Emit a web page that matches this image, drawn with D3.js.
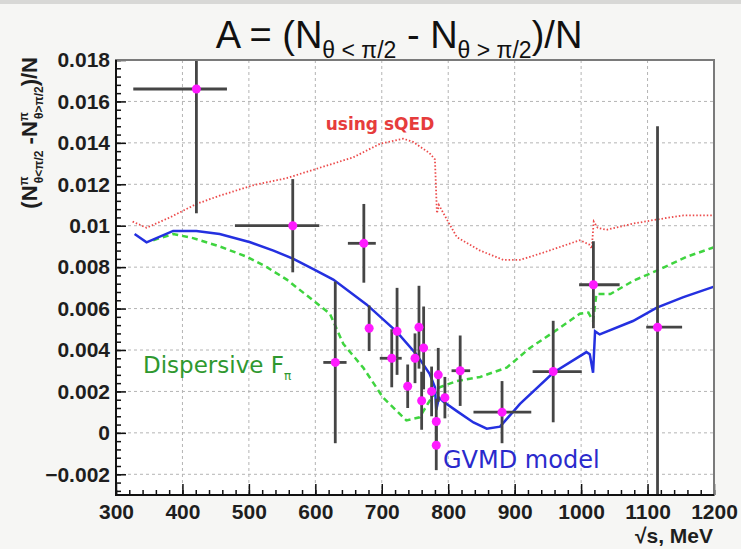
<!DOCTYPE html>
<html>
<head>
<meta charset="utf-8">
<script src="https://cdn.jsdelivr.net/npm/d3@7"></script>
<style>
body { margin: 0; background: #f6f6f4; }
svg { display: block; }
.axis-label { font-family: 'Liberation Sans', Arial, sans-serif; font-weight: bold; font-size: 21px; fill: #1e1e1e; }
.axis path { display: none; }
.axis line { stroke: #111; stroke-width: 1.5; }
</style>
</head>
<body>
<svg id="chart" width="741" height="549"></svg>
<script>
'use strict';

// axes
var aXTicks = [300, 400, 500, 600, 700, 800, 900, 1000, 1100, 1200];
var aYTicks = [-0.002, 0, 0.002, 0.004, 0.006, 0.008, 0.01, 0.012, 0.014, 0.016, 0.018];
var aYTickLabels = ['\u22120.002', '0', '0.002', '0.004', '0.006', '0.008', '0.01', '0.012', '0.014', '0.016', '0.018'];

// measured points: energy (MeV), asymmetry, error, energy bin edges
var aPointE    = [421, 566, 673, 630, 681, 715, 723, 739, 750, 756, 763, 760, 775, 785, 795, 782, 782, 818, 881, 958, 1018.5, 1115];
var aPointA    = [0.0166, 0.0100, 0.00915, 0.0034, 0.00505, 0.0036, 0.0049, 0.00225, 0.0036, 0.0051, 0.0041, 0.00155, 0.0020, 0.0028, 0.0017, 0.00055, -0.0006, 0.0030, 0.0010, 0.00296, 0.00715, 0.0051];
var aPointErr  = [0.0060, 0.00225, 0.0019, 0.0039, 0.0011, 0.0014, 0.0021, 0.00105, 0.0012, 0.0020, 0.0020, 0.0014, 0.0012, 0.0013, 0.0010, 0.0011, 0.0012, 0.0017, 0.0015, 0.00245, 0.0021, 0.0097];
var aPointELo  = [326, 479, 649, 612, 678, 697, 720, 736, 747, 753, 760, 757, 772, 782, 792, 779, 779, 805, 838, 927, 997, 1098];
var aPointEHi  = [467, 606, 691, 647, 684, 730, 726, 742, 753, 759, 766, 763, 778, 788, 798, 785, 785, 833, 925, 1001, 1058, 1152];

// sQED prediction (red dotted)
var aSqedE = [325, 346, 381, 421, 456, 506, 557, 607, 657, 697, 732, 747, 772, 780, 783, 786, 798, 813, 848, 883, 908, 923, 943, 998, 1012, 1016, 1019, 1025, 1038, 1078, 1114, 1154, 1199];
var aSqedA = [0.0102, 0.0099, 0.0104, 0.01105, 0.01145, 0.01195, 0.0123, 0.0128, 0.0133, 0.01395, 0.0142, 0.01405, 0.0135, 0.0132, 0.0106, 0.0110, 0.0103, 0.00945, 0.0088, 0.00835, 0.00835, 0.0085, 0.0087, 0.0093, 0.0091, 0.0089, 0.0102, 0.0099, 0.0098, 0.0101, 0.0103, 0.0105, 0.0105];

// GVMD model (blue solid)
var aGvmdE = [328, 346, 386, 421, 456, 502, 537, 567, 597, 627, 677, 722, 752, 772, 780, 782, 786, 793, 813, 838, 858, 878, 908, 958, 1008, 1013, 1018, 1021, 1028, 1078, 1114, 1154, 1199];
var aGvmdA = [0.0096, 0.0092, 0.00975, 0.00975, 0.0096, 0.0092, 0.0088, 0.0084, 0.0079, 0.0074, 0.0062, 0.0049, 0.0038, 0.00285, 0.0022, 0.0011, 0.0017, 0.0015, 0.00105, 0.0005, 0.0002, 0.0003, 0.0014, 0.0029, 0.0039, 0.0038, 0.0029, 0.0049, 0.00475, 0.0054, 0.00605, 0.00655, 0.00705];

// dispersive F_pi (green dashed)
var aDispE = [356, 386, 416, 456, 497, 527, 557, 622, 642, 672, 702, 737, 757, 772, 787, 813, 848, 888, 923, 958, 998, 1011, 1018, 1023, 1044, 1079, 1119, 1159, 1199];
var aDispA = [0.0093, 0.0096, 0.0094, 0.0090, 0.0085, 0.0080, 0.0074, 0.00575, 0.0043, 0.00315, 0.0017, 0.0006, 0.00075, 0.00155, 0.0022, 0.0025, 0.0027, 0.00315, 0.0041, 0.00485, 0.00575, 0.0058, 0.0054, 0.0067, 0.0067, 0.00735, 0.0079, 0.0085, 0.00895];

function DrawAsymmetryChart(vSelector)
{
	var sSvg = d3.select(vSelector);
	var rFrame = {left: 116, right: 714, top: 60, bottom: 495};

	var scaleX = d3.scaleLinear().domain([300, 1200]).range([rFrame.left, rFrame.right]);
	var scaleY = d3.scaleLinear().domain([-0.003, 0.018]).range([rFrame.bottom, rFrame.top]);

	sSvg.append('rect')
		.attr('x', 0).attr('y', 0).attr('width', 741).attr('height', 4)
		.attr('fill', '#d8d8d6');

	sSvg.append('rect')
		.attr('x', rFrame.left).attr('y', rFrame.top)
		.attr('width', rFrame.right - rFrame.left).attr('height', rFrame.bottom - rFrame.top)
		.attr('fill', '#ffffff');

	sSvg.append('clipPath').attr('id', 'frame-clip')
		.append('rect')
			.attr('x', rFrame.left).attr('y', rFrame.top)
			.attr('width', rFrame.right - rFrame.left).attr('height', rFrame.bottom - rFrame.top);

	// grid
	var sGrid = sSvg.append('g').attr('stroke', '#b4b4b4').attr('stroke-width', 1).attr('stroke-dasharray', '3,3');
	sGrid.selectAll('.vgrid')
		.data(aXTicks.slice(1, -1))
		.enter()
			.append('line')
				.attr('x1', function(d) { return scaleX(d); })
				.attr('x2', function(d) { return scaleX(d); })
				.attr('y1', rFrame.top)
				.attr('y2', rFrame.bottom);
	sGrid.selectAll('.hgrid')
		.data(aYTicks)
		.enter()
			.append('line')
				.attr('x1', rFrame.left)
				.attr('x2', rFrame.right)
				.attr('y1', function(d) { return scaleY(d); })
				.attr('y2', function(d) { return scaleY(d); });

	// axes (ticks inside the frame)
	var axisX = d3.axisBottom(scaleX).tickValues(aXTicks).tickSize(-11).tickPadding(9).tickFormat(d3.format('d'));
	var axisXMinor = d3.axisBottom(scaleX).tickValues(d3.range(300, 1201, 20)).tickSize(-5).tickFormat('');
	var axisY = d3.axisLeft(scaleY).tickValues(aYTicks).tickSize(-10).tickPadding(6)
		.tickFormat(function(d, i) { return aYTickLabels[i]; });
	var axisYMinor = d3.axisLeft(scaleY).tickValues(d3.range(-0.0028, 0.0181, 0.0004)).tickSize(-5).tickFormat('');

	var sAxisX = sSvg.append('g').attr('class', 'axis')
		.attr('transform', 'translate(0,' + rFrame.bottom + ')')
		.call(axisX);
	sAxisX.selectAll('text').attr('class', 'axis-label');
	sSvg.append('g').attr('class', 'axis')
		.attr('transform', 'translate(0,' + rFrame.bottom + ')')
		.call(axisXMinor);

	var sAxisY = sSvg.append('g').attr('class', 'axis')
		.attr('transform', 'translate(' + rFrame.left + ',0)')
		.call(axisY);
	sAxisY.selectAll('text').attr('class', 'axis-label');
	sSvg.append('g').attr('class', 'axis')
		.attr('transform', 'translate(' + rFrame.left + ',0)')
		.call(axisYMinor);

	// curves
	var sCurves = sSvg.append('g').attr('clip-path', 'url(#frame-clip)').attr('fill', 'none');
	var fLine = d3.line()
		.x(function(d) { return scaleX(d[0]); })
		.y(function(d) { return scaleY(d[1]); });

	sCurves.append('path')
		.attr('d', fLine(d3.zip(aSqedE, aSqedA)))
		.attr('stroke', '#ec4a4a').attr('stroke-width', 1.8).attr('stroke-dasharray', '1.5,2');
	sCurves.append('path')
		.attr('d', fLine(d3.zip(aDispE, aDispA)))
		.attr('stroke', '#3fd43f').attr('stroke-width', 2.5).attr('stroke-dasharray', '6,4');
	sCurves.append('path')
		.attr('d', fLine(d3.zip(aGvmdE, aGvmdA)))
		.attr('stroke', '#2430e0').attr('stroke-width', 2.5);

	// data points with error bars
	var aPoints = aPointE.map(function(e, i)
	{
		return {e: e, a: aPointA[i], err: aPointErr[i], lo: aPointELo[i], hi: aPointEHi[i]};
	});

	var sPoints = sSvg.append('g').attr('clip-path', 'url(#frame-clip)');
	var sBars = sPoints.selectAll('.point')
		.data(aPoints)
		.enter()
			.append('g')
				.attr('class', 'point')
				.attr('stroke', '#454545').attr('stroke-width', 2.8);
	sBars.append('line')
		.attr('x1', function(p) { return scaleX(p.e); })
		.attr('x2', function(p) { return scaleX(p.e); })
		.attr('y1', function(p) { return scaleY(p.a - p.err); })
		.attr('y2', function(p) { return scaleY(p.a + p.err); });
	sBars.append('line')
		.attr('x1', function(p) { return scaleX(p.lo); })
		.attr('x2', function(p) { return scaleX(p.hi); })
		.attr('y1', function(p) { return scaleY(p.a); })
		.attr('y2', function(p) { return scaleY(p.a); });
	sPoints.selectAll('.marker')
		.data(aPoints)
		.enter()
			.append('circle')
				.attr('cx', function(p) { return scaleX(p.e); })
				.attr('cy', function(p) { return scaleY(p.a); })
				.attr('r', 4.5)
				.attr('fill', '#ff1aff');

	// frame
	sSvg.append('rect')
		.attr('x', rFrame.left).attr('y', rFrame.top)
		.attr('width', rFrame.right - rFrame.left).attr('height', rFrame.bottom - rFrame.top)
		.attr('fill', 'none').attr('stroke', '#7a7a7a').attr('stroke-width', 2);
	sSvg.append('path')
		.attr('d', 'M' + rFrame.left + ',' + rFrame.top + 'V' + rFrame.bottom + 'H' + rFrame.right)
		.attr('fill', 'none').attr('stroke', '#111').attr('stroke-width', 2);

	// curve labels
	var strFont = "'DejaVu Sans', Verdana, sans-serif";
	sSvg.append('text')
		.attr('x', 380).attr('y', 130)
		.attr('text-anchor', 'middle')
		.style('font-family', strFont).style('font-weight', 'bold').style('font-size', '17px')
		.attr('fill', '#e63c3c')
		.text('using sQED');

	var sDisp = sSvg.append('text')
		.attr('x', 143).attr('y', 373)
		.style('font-family', strFont).style('font-size', '23px')
		.attr('fill', '#2f982f');
	sDisp.append('tspan').text('Dispersive F');
	sDisp.append('tspan').attr('dy', 7).style('font-size', '12px').text('\u03c0');

	sSvg.append('text')
		.attr('x', 443).attr('y', 468)
		.style('font-family', strFont).style('font-size', '24px')
		.attr('fill', '#2a2acc')
		.text('GVMD model');

	// title
	var strTitleFont = "'Liberation Sans', Arial, sans-serif";
	var sTitle = sSvg.append('text')
		.attr('x', 399).attr('y', 48)
		.attr('text-anchor', 'middle')
		.style('font-family', strTitleFont).style('font-size', '38px')
		.attr('fill', '#111');
	sTitle.append('tspan').text('A = (N');
	sTitle.append('tspan').attr('dy', 10).style('font-size', '23px').text('\u03b8 < \u03c0/2');
	sTitle.append('tspan').attr('dy', -10).text(' - N');
	sTitle.append('tspan').attr('dy', 10).style('font-size', '23px').text('\u03b8 > \u03c0/2');
	sTitle.append('tspan').attr('dy', -10).text(')/N');

	// axis titles
	var sYTitle = sSvg.append('text')
		.attr('transform', 'translate(37,57) rotate(-90)')
		.attr('text-anchor', 'end')
		.style('font-family', strTitleFont).style('font-weight', 'bold').style('font-size', '22px')
		.attr('fill', '#1e1e1e');
	sYTitle.append('tspan').text('(N');
	sYTitle.append('tspan').attr('dy', -9).style('font-size', '12px').text('\u03c0');
	sYTitle.append('tspan').attr('dx', -7).attr('dy', 15).style('font-size', '12px').text('\u03b8<\u03c0/2');
	sYTitle.append('tspan').attr('dy', -6).text(' -N');
	sYTitle.append('tspan').attr('dy', -9).style('font-size', '12px').text('\u03c0');
	sYTitle.append('tspan').attr('dx', -7).attr('dy', 15).style('font-size', '12px').text('\u03b8>\u03c0/2');
	sYTitle.append('tspan').attr('dy', -6).text(')/N');

	sSvg.append('text')
		.attr('x', 713).attr('y', 543)
		.attr('text-anchor', 'end')
		.attr('class', 'axis-label')
		.text('\u221as, MeV');
}

DrawAsymmetryChart('#chart');
</script>
</body>
</html>
